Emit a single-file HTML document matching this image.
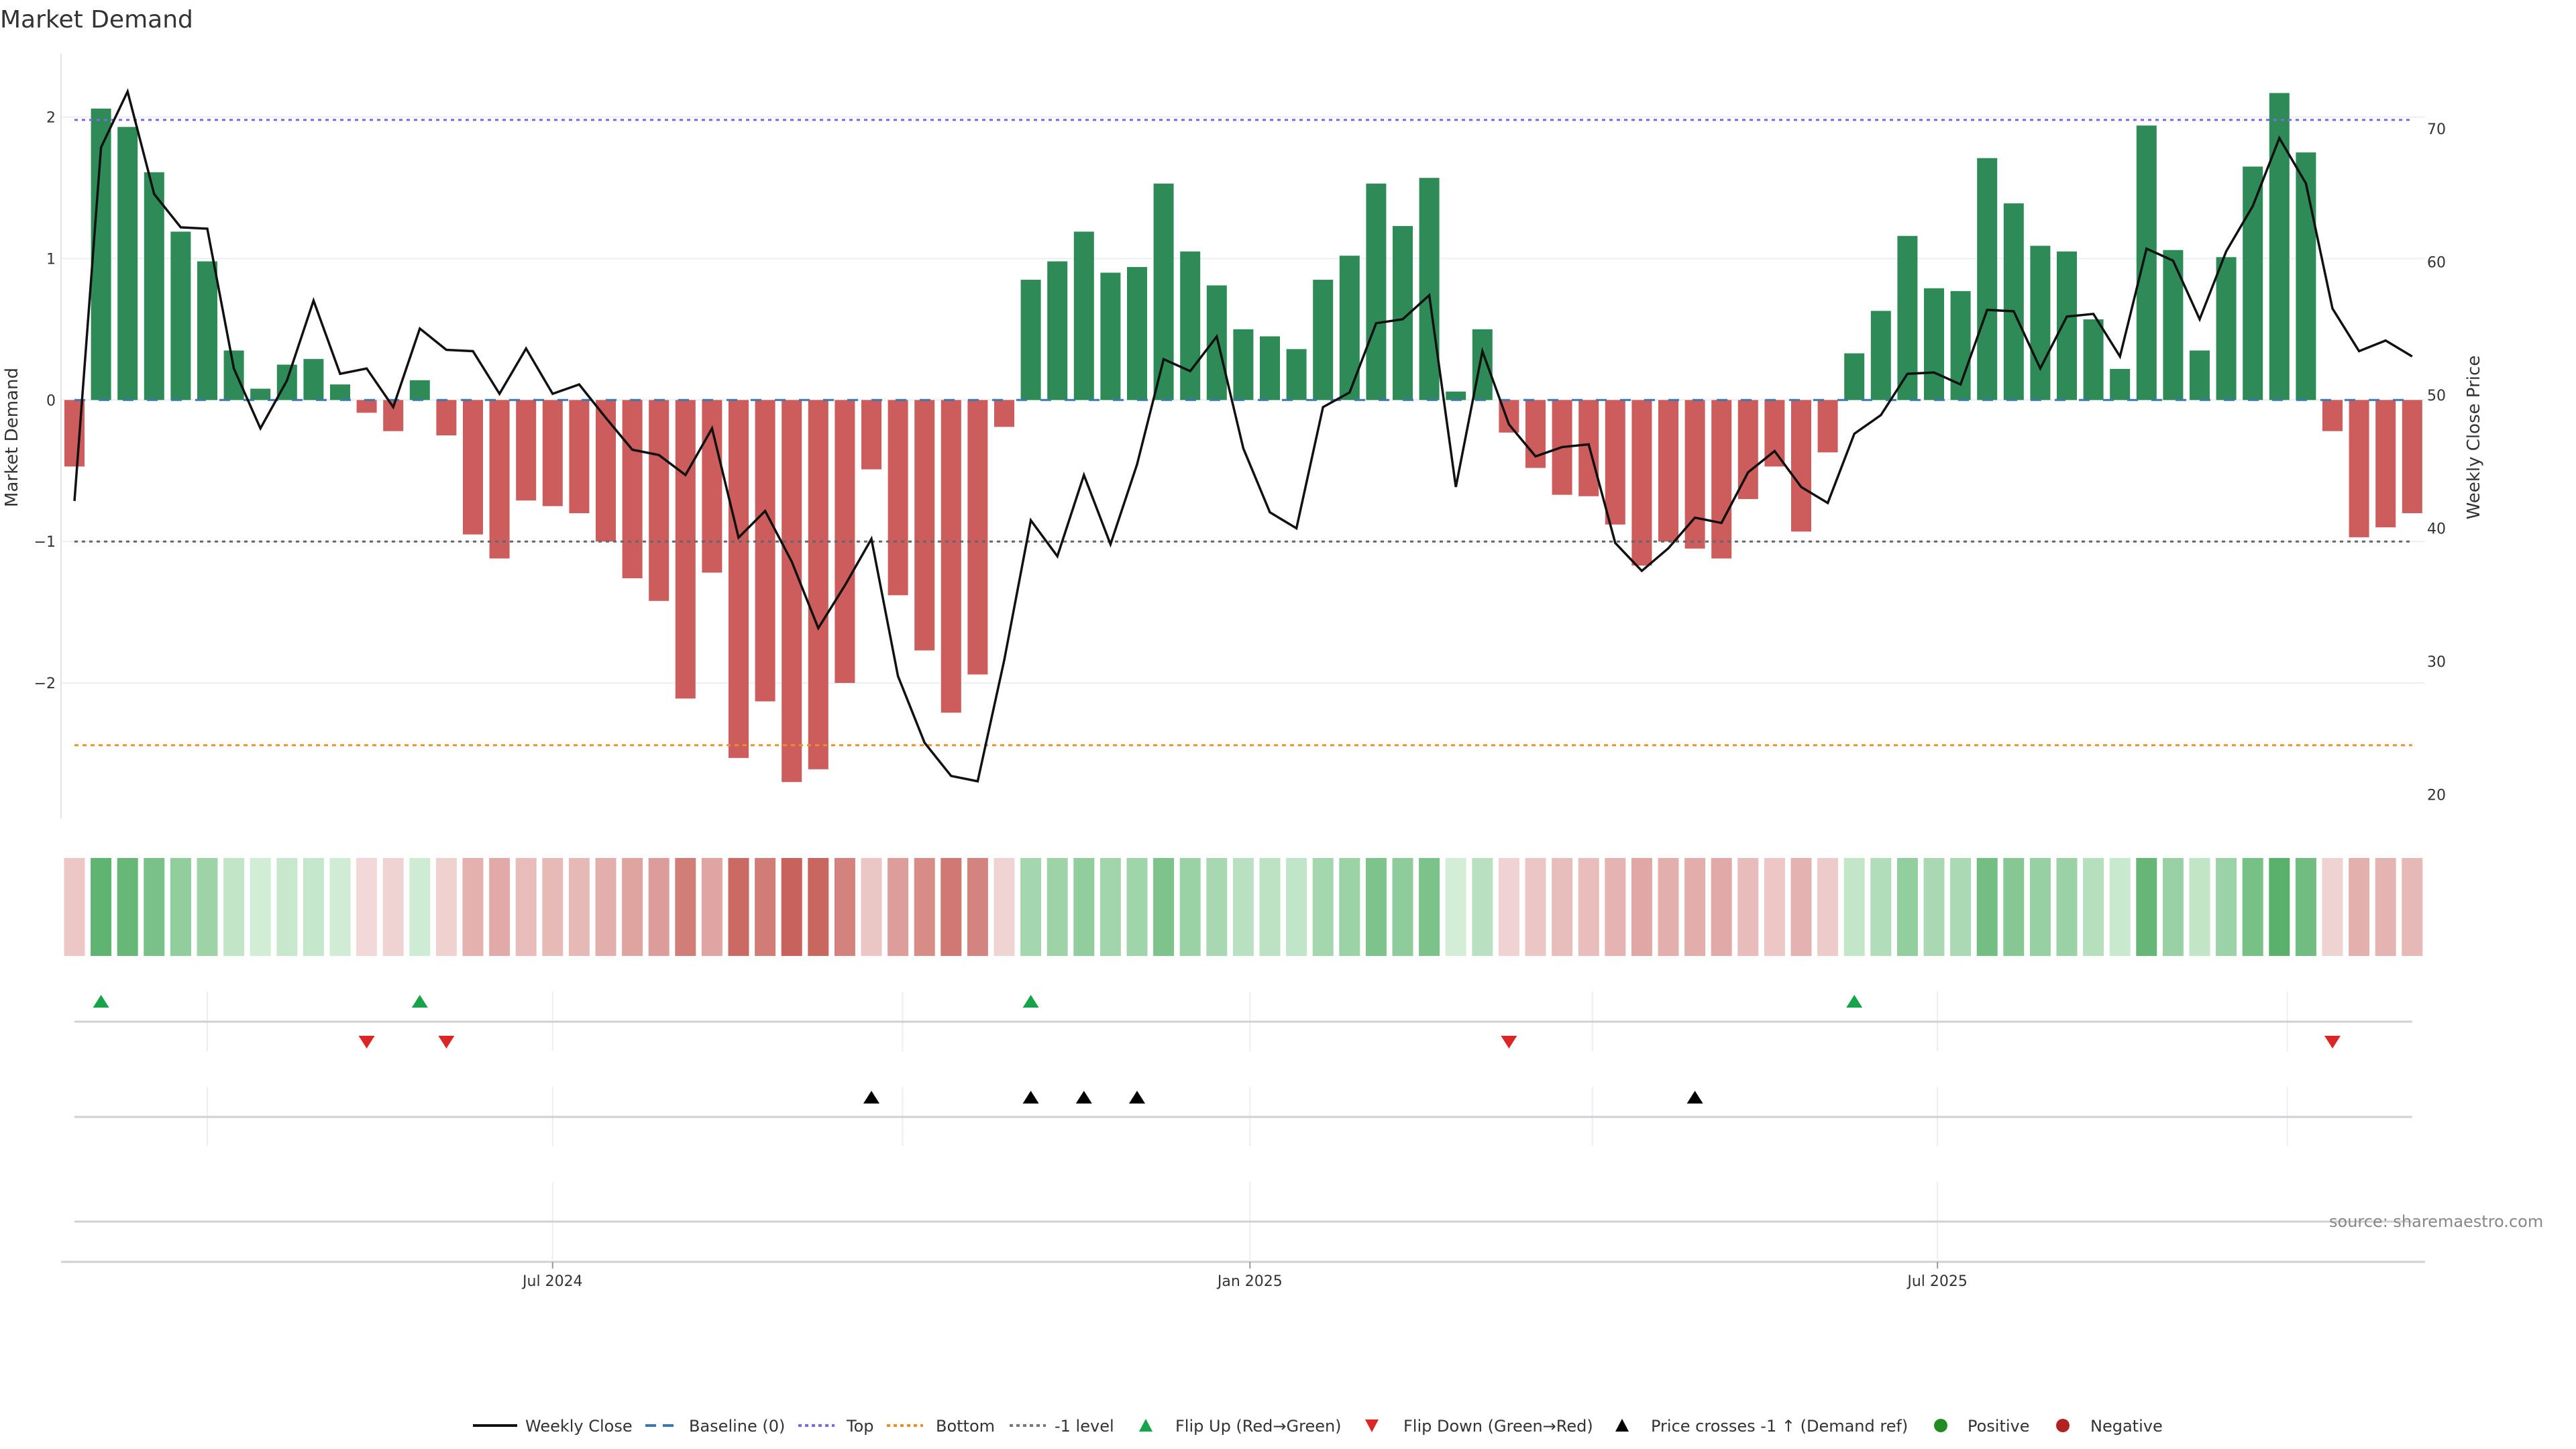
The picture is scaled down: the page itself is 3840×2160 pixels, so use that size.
<!DOCTYPE html>
<html><head><meta charset="utf-8"><style>
html,body{margin:0;padding:0;background:#fff;width:3840px;height:2160px;overflow:hidden}
svg{display:block}
text{font-family:"DejaVu Sans","Liberation Sans",sans-serif;fill:#333}
</style></head><body>
<svg id="chart" width="3840" height="2160" viewBox="0 0 3840 2160" xmlns="http://www.w3.org/2000/svg">
<text x="0" y="41" font-size="36">Market Demand</text>
<g id="grid"></g>
<g id="bars"></g>
<g id="refs"></g>
<g id="line"></g>
<g id="axes"></g>
<g id="heat"></g>
<g id="events"></g>
<text x="17" y="652" font-size="26" text-anchor="middle" transform="rotate(-90 17 652)" dy="9">Market Demand</text>
<text x="3687" y="652" font-size="26" text-anchor="middle" transform="rotate(-90 3687 652)" dy="9">Weekly Close Price</text>
<text x="3472" y="1829" font-size="24" style="fill:#888">source: sharemaestro.com</text>
<g id="legend"></g>
</svg>
<script>
const demand = [-0.47,2.06,1.93,1.61,1.19,0.98,0.35,0.08,0.25,0.29,0.11,-0.09,-0.22,0.14,-0.25,-0.95,-1.12,-0.71,-0.75,-0.80,-1.0,-1.26,-1.42,-2.11,-1.22,-2.53,-2.13,-2.70,-2.61,-2.0,-0.49,-1.38,-1.77,-2.21,-1.94,-0.19,0.85,0.98,1.19,0.90,0.94,1.53,1.05,0.81,0.50,0.45,0.36,0.85,1.02,1.53,1.23,1.57,0.06,0.50,-0.23,-0.48,-0.67,-0.68,-0.88,-1.17,-1.0,-1.05,-1.12,-0.70,-0.47,-0.93,-0.37,0.33,0.63,1.16,0.79,0.77,1.71,1.39,1.09,1.05,0.57,0.22,1.94,1.06,0.35,1.01,1.65,2.17,1.75,-0.22,-0.97,-0.90,-0.80];
const price = [42.05,68.6,72.8,65.1,62.6,62.5,52.0,47.5,51.1,57.1,51.6,52.0,49.1,55.0,53.4,53.3,50.1,53.5,50.1,50.8,48.3,45.9,45.5,44.0,47.5,39.3,41.3,37.5,32.5,35.7,39.2,28.9,23.9,21.4,21.0,30.1,40.6,37.9,44.0,38.8,44.8,52.7,51.8,54.4,46.0,41.2,40.0,49.1,50.2,55.4,55.7,57.5,43.1,53.3,47.8,45.4,46.1,46.3,38.9,36.8,38.5,40.8,40.4,44.2,45.8,43.1,41.9,47.1,48.5,51.6,51.7,50.8,56.4,56.3,52.0,55.9,56.1,52.9,61.0,60.1,55.7,60.8,64.2,69.3,65.9,56.5,53.3,54.1,52.9];
const demandTicks = [2,1,0,-1,-2];
const priceTicks = [70,60,50,40,30,20];
const refTop = 1.98, refBottom = -2.44, refMinus1 = -1.0;
const priceCrossRef = 39.0;
const dateTickIdx = [5.0,18.0,31.17,44.25,57.14,70.13,83.3];
const dateTickLabels = ["","Jul 2024","","Jan 2025","","Jul 2025",""];

const NS="http://www.w3.org/2000/svg";
function mk(tag,attrs,parent){const e=document.createElementNS(NS,tag);for(const k in attrs)e.setAttribute(k,attrs[k]);parent.appendChild(e);return e;}
const xB=i=>111+i*39.6;
const yD=v=>596.3-v*210.9;
const yP=p=>589-(p-50)*19.85;
const X0=91,X1=3615,L0=xB(0),L1=xB(demand.length-1);
const G=id=>document.getElementById(id);

const grid=G('grid'),axes=G('axes');
let el=mk('line',{x1:X0,x2:X0,y1:80,y2:1220,stroke:'#e3e3e3','stroke-width':2},axes);


demandTicks.forEach(t=>{
  const y=yD(t);
  let g=mk('line',{x1:X0,x2:X1,y1:y,y2:y,stroke:'#eceff2','stroke-width':2},grid);
  
  
  let tx=mk('text',{x:83,y:y+8,'font-size':22,'text-anchor':'end'},axes);
  tx.textContent=t<0?'\u2212'+Math.abs(t):String(t);
  
  
});
priceTicks.forEach(t=>{
  let tx=mk('text',{x:3618,y:yP(t)+8,'font-size':22},axes);
  tx.textContent=String(t);
  
  
});

const bars=G('bars');
demand.forEach((v,i)=>{
  const y=yD(Math.max(v,0)),h=Math.abs(yD(v)-yD(0));
  let r=mk('rect',{x:xB(i)-15,y:y,width:30,height:h,fill:v>=0?'#2e8b57':'#cd5c5c'},bars);
  
  
});

const refs=G('refs');
function hl(y,color,dash,name,w){let l=mk('line',{x1:L0,x2:L1,y1:y,y2:y,stroke:color,'stroke-width':w||3,'stroke-dasharray':dash},refs);}
hl(yD(0),'#3a78b5','16 20','baseline-zero',3);
hl(yD(refTop),'#7b68ee','5 6','top-line',3);
hl(yD(refBottom),'#e8912a','6 6','bottom-line',3);
hl(yD(refMinus1),'#666','5 6','minus1-level-line',3);

const pl=mk('polyline',{points:price.map((p,i)=>xB(i)+','+yP(p)).join(' '),fill:'none',stroke:'#111','stroke-width':3.5,'stroke-linejoin':'miter'},G('line'));



const heat=G('heat');
function lerp(a,b,t){return a.map((c,k)=>Math.round(c+(b[k]-c)*t));}
demand.forEach((v,i)=>{
  let c;
  if(v>=0){c=lerp([214,239,218],[76,170,96],Math.min(v/2.4,1));}
  else{c=lerp([243,220,220],[200,98,92],Math.min(-v/2.7,1));}
  let r=mk('rect',{x:xB(i)-15.5,y:1279,width:31,height:146,fill:'rgb('+c.join(',')+')'},heat);
  
  
});

const ev=G('events');
const panels=[{y0:1478,y1:1567,line:1523,allTicks:true},{y0:1620,y1:1708,line:1665,allTicks:true},{y0:1762,y1:1880,line:1821,allTicks:false}];
panels.forEach((p,k)=>{
  dateTickIdx.forEach((t,j)=>{
    if(!p.allTicks&&!dateTickLabels[j])return;
    let v=mk('line',{x1:xB(t),x2:xB(t),y1:p.y0,y2:p.y1,stroke:'#eceef2','stroke-width':2},ev);
    
    
  });
  let l=mk('line',{x1:L0,x2:L1,y1:p.line,y2:p.line,stroke:'#d0d0d4','stroke-width':3},ev);
  
  
});
function tri(x,y,up,color,name){
  const pts=up?[[x-12,y+8],[x+12,y+8],[x,y-11]]:[[x-12,y-8],[x+12,y-8],[x,y+11]];
  let t=mk('polygon',{points:pts.map(q=>q.join(',')).join(' '),fill:color},ev);
  
  
}
for(let i=1;i<demand.length;i++){
  if(demand[i-1]<0&&demand[i]>=0)tri(xB(i),1494,true,'#16a34a','flip-up-marker');
  if(demand[i-1]>=0&&demand[i]<0)tri(xB(i),1552,false,'#dc2626','flip-down-marker');
  if(price[i-1]<priceCrossRef&&price[i]>=priceCrossRef)tri(xB(i),1637,true,'#000','price-cross-marker');
}
let ax=mk('line',{x1:X0,x2:X1,y1:1881,y2:1881,stroke:'#d0d0d0','stroke-width':3},axes);


dateTickIdx.forEach((t,j)=>{
  if(!dateTickLabels[j])return;
  let tk=mk('line',{x1:xB(t),x2:xB(t),y1:1881,y2:1891,stroke:'#999','stroke-width':2},axes);
  
  
  let tx=mk('text',{x:xB(t),y:1917,'font-size':22,'text-anchor':'middle'},axes);
  tx.textContent=dateTickLabels[j];
  
  
});

const lg=G('legend');const LY=2125;
function ltext(x,s){let t=mk('text',{x:x,y:LY+9,'font-size':24},lg);t.textContent=s;}
function lline(x1,x2,color,dash,w){let l=mk('line',{x1:x1,x2:x2,y1:LY,y2:LY,stroke:color,'stroke-width':w,'stroke-dasharray':dash},lg);}
lline(705,771,'#111','none',4);ltext(783,'Weekly Close');
lline(962,1012,'#3a78b5','16 10',4);ltext(1027,'Baseline (0)');
lline(1190,1244,'#7b68ee','5 5',4);ltext(1262,'Top');
lline(1322,1376,'#e8912a','5 5',4);ltext(1395,'Bottom');
lline(1505,1559,'#777','5 5',4);ltext(1572,'-1 level');
function ltri(x,up,color){const y=LY;const pts=up?[[x-10,y+9],[x+10,y+9],[x,y-10]]:[[x-10,y-9],[x+10,y-9],[x,y+10]];let t=mk('polygon',{points:pts.map(q=>q.join(',')).join(' '),fill:color},lg);}
ltri(1708,true,'#16a34a');ltext(1752,'Flip Up (Red\u2192Green)');
ltri(2045,false,'#dc2626');ltext(2092,'Flip Down (Green\u2192Red)');
ltri(2418,true,'#000');ltext(2461,'Price crosses -1 \u2191 (Demand ref)');
let c1=mk('circle',{cx:2893,cy:LY,r:10,fill:'#228b22'},lg);ltext(2933,'Positive');
let c2=mk('circle',{cx:3075,cy:LY,r:10,fill:'#b22222'},lg);ltext(3116,'Negative');
</script>
</body></html>
